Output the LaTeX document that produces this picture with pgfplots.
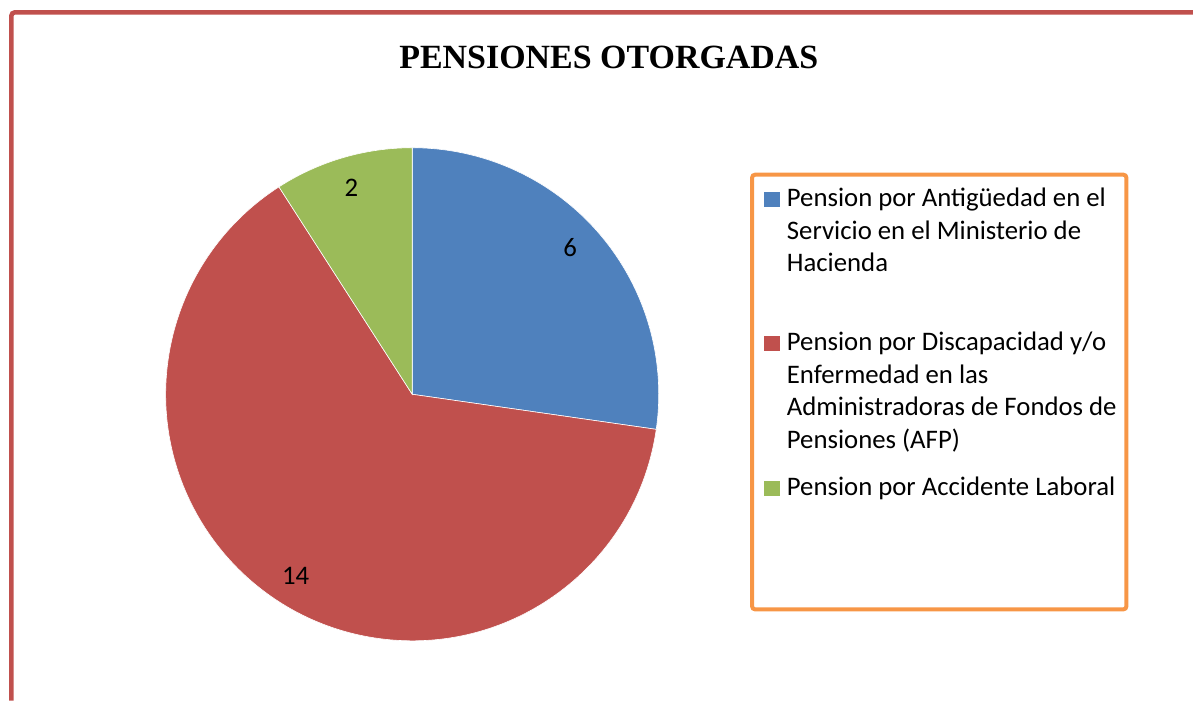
\documentclass[border=0pt]{standalone}
\usepackage{fontspec}
\setmainfont{Carlito}
\newfontfamily\titlefont{Liberation Serif}
\usepackage{pgfplots}
\usepackage{pgfplotstable}
\pgfplotsset{compat=1.18}

\definecolor{pblue}{HTML}{4F81BD}
\definecolor{pred}{HTML}{C0504D}
\definecolor{pgreen}{HTML}{9BBB59}
\definecolor{porange}{HTML}{F79646}

% pensiones otorgadas, by type
\pgfplotstableread{
value
6
14
2
}\pensiones

\pgfplotstablegetelem{0}{value}\of\pensiones \let\va\pgfplotsretval
\pgfplotstablegetelem{1}{value}\of\pensiones \let\vb\pgfplotsretval
\pgfplotstablegetelem{2}{value}\of\pensiones \let\vc\pgfplotsretval
\pgfmathsetmacro{\tot}{\va+\vb+\vc}
\pgfmathsetmacro{\eA}{90-360*\va/\tot}
\pgfmathsetmacro{\eB}{\eA-360*\vb/\tot}
\pgfmathsetmacro{\eC}{\eB-360*\vc/\tot}
\pgfmathsetmacro{\mA}{(90+\eA)/2}
\pgfmathsetmacro{\mB}{(\eA+\eB)/2}
\pgfmathsetmacro{\mC}{(\eB+\eC)/2}

\newcommand{\R}{123.5pt}
\newcommand{\Rl}{108pt}

\begin{document}
\begin{tikzpicture}
\begin{axis}[
    x=0.5pt, y=0.5pt,
    xmin=0, xmax=1195, ymin=0, ymax=702,
    y dir=reverse,
    hide axis,
    clip=false,
]
\path (axis cs:0,0) rectangle (axis cs:1195,702);

% outer chart frame (cropped)
\draw[pred, line width=2.25pt, rounded corners=1.5pt]
    (axis cs:11.5,702) -- (axis cs:11.5,12.5) -- (axis cs:1195,12.5);

% title
\node[font=\titlefont\bfseries\fontsize{17}{20}\selectfont, anchor=base]
    at (axis cs:610,69) {PENSIONES OTORGADAS};

% pie slices
\fill[pblue, draw=white, line width=0.3pt] (axis cs:413,395) -- ([shift={(90:\R)}]axis cs:413,395)
    arc[start angle=90, end angle=\eA, radius=\R] -- cycle;
\fill[pred, draw=white, line width=0.3pt] (axis cs:413,395) -- ([shift={(\eA:\R)}]axis cs:413,395)
    arc[start angle=\eA, end angle=\eB, radius=\R] -- cycle;
\fill[pgreen, draw=white, line width=0.3pt] (axis cs:413,395) -- ([shift={(\eB:\R)}]axis cs:413,395)
    arc[start angle=\eB, end angle=\eC, radius=\R] -- cycle;

% data labels
\node[font=\fontsize{13.4}{16}\selectfont] at ([shift={(\mA+2:\Rl)}]axis cs:413,395) {6};
\node[font=\fontsize{13.4}{16}\selectfont] at ([shift={(\mB:\Rl)}]axis cs:413,395) {14};
\node[font=\fontsize{13.4}{16}\selectfont] at ([shift={(\mC:\Rl)}]axis cs:413,395) {2};

% legend
\draw[porange, line width=2pt, rounded corners=1.5pt]
    (axis cs:753.5,175) rectangle (axis cs:1128.5,610.5);
\fill[pblue] (axis cs:765,192) rectangle (axis cs:781,207);
\fill[pred] (axis cs:765,337) rectangle (axis cs:781,352);
\fill[pgreen] (axis cs:765,482) rectangle (axis cs:781,497);
\begin{scope}[every node/.style={anchor=base west, inner sep=0pt, font=\fontsize{13.4}{16}\selectfont}]
\node at (axis cs:788,207) {Pension por Antigüedad en el};
\node at (axis cs:788,239.5) {Servicio en el Ministerio de};
\node at (axis cs:788,272) {Hacienda};
\node at (axis cs:788,351.5) {Pension por Discapacidad y/o};
\node at (axis cs:788,384) {Enfermedad en las};
\node at (axis cs:788,416.5) {Administradoras de Fondos de};
\node at (axis cs:788,449) {Pensiones (AFP)};
\node at (axis cs:788,496.5) {Pension por Accidente Laboral};
\end{scope}
\end{axis}
\end{tikzpicture}
\end{document}
